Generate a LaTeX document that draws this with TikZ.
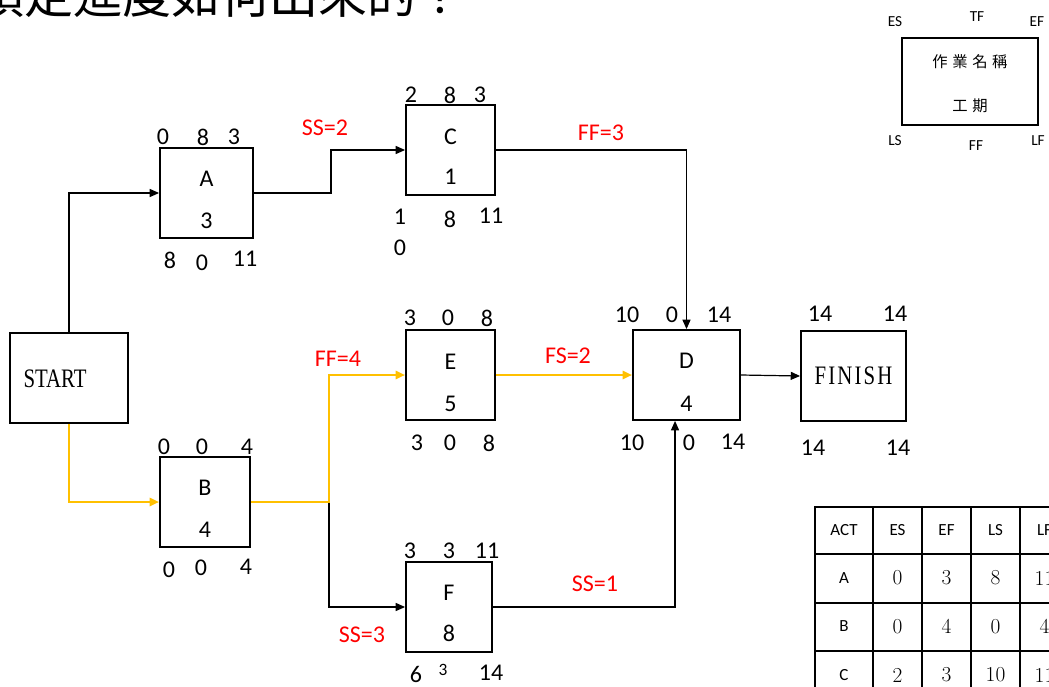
\documentclass[tikz,border=0pt]{standalone}
\usepackage{fontspec}
\setmainfont{Carlito}
\newfontfamily\cjk{Noto Sans CJK TC}
\newfontfamily\halfserif[FakeStretch=0.78]{Liberation Serif}
\newfontfamily\cmnum{Latin Modern Roman}
\usetikzlibrary{arrows.meta,positioning}
\definecolor{critpath}{HTML}{FFC000}

\begin{document}
\begin{tikzpicture}[x=0.75pt, y=-0.75pt,
                font=\fontsize{18}{20}\selectfont,
                box/.style={rectangle, draw=black, line width=1.4pt, minimum height=67.5pt, inner sep=0pt},
                txt/.style={inner sep=0pt},
                rel/.style={txt, text=red},
                key/.style={txt, font=\fontsize{11.5}{13}\selectfont},
                thead/.style={txt, font=\fontsize{12.75}{14}\selectfont},
                tnum/.style={txt, font=\cmnum\fontsize{16}{18}\selectfont},
                tbl/.style={line width=1.5pt},
                arr/.style={-{Triangle[length=7pt,width=6pt]}, line width=0.9pt},
                carr/.style={arr, draw=critpath, line width=1.8pt},
            ]
            \useasboundingbox (0,0) rectangle (1049,686);

            % title (cut by the page edge)
            \node[txt, anchor=base west, font={\cjk\fontsize{36.75}{40}\selectfont}] (title) at (-25,13) {預定進度如何出來的？};

            % activity boxes
            \node[box, minimum width=88.5pt] (start) at (69,378) {};
            \node[txt, font={\halfserif\fontsize{20}{22}\selectfont}] (start-txt) at (55,379) {START};
            \node[box, minimum width=69.75pt] (A) at (206.5,193) {};
            \node[box, minimum width=67.5pt] (B) at (205,502) {};
            \node[box, minimum width=66.75pt] (C) at (450.5,150) {};
            \node[box, minimum width=66.75pt] (E) at (450.5,375) {};
            \node[box, minimum width=64.5pt] (F) at (449,607) {};
            \node[box, minimum width=80.25pt] (D) at (686.5,375) {};
            \node[box, minimum width=78.75pt, font={\halfserif\addfontfeature{LetterSpace=8}\fontsize{20}{22}\selectfont}] (finish) at (853.5,376) {FINISH};

            % names and durations
            \node[txt, yshift=10.5pt] (A-name) at (A) {A};
            \node[txt, yshift=-21pt] (A-dur) at (A) {3};
            \node[txt, yshift=10.5pt] (B-name) at (B) {B};
            \node[txt, yshift=-21pt] (B-dur) at (B) {4};
            \node[txt, yshift=10pt] (C-name) at (C) {C};
            \node[txt, yshift=-20pt] (C-dur) at (C) {1};
            \node[txt, yshift=10pt] (E-name) at (E) {E};
            \node[txt, yshift=-21.5pt] (E-dur) at (E) {5};
            \node[txt, yshift=11pt] (F-name) at (F) {F};
            \node[txt, yshift=-20pt] (F-dur) at (F) {8};
            \node[txt, yshift=11pt] (D-name) at (D) {D};
            \node[txt, yshift=-21.5pt] (D-dur) at (D) {4};

            % time values round the boxes
            \node[txt] (A-es) at (163,137) {0};
            \node[txt] (A-tf) at (203,137) {8};
            \node[txt] (A-ef) at (234,137) {3};
            \node[txt] (A-ls) at (170,260) {8};
            \node[txt] (A-ff) at (202,263) {0};
            \node[txt] (A-lf) at (245,259) {11};
            \node[txt] (C-es) at (411,95) {2};
            \node[txt] (C-tf) at (450,95) {8};
            \node[txt] (C-ef) at (480,95) {3};
            \node[txt, align=center] (C-ls) at (400,232.5) {1\\[3.5pt]0};
            \node[txt] (C-ff) at (450,219) {8};
            \node[txt] (C-lf) at (491,216) {11};
            \node[txt] (E-es) at (410,318) {3};
            \node[txt] (E-tf) at (448,318) {0};
            \node[txt] (E-ef) at (487,318) {8};
            \node[txt] (E-ls) at (417,443) {3};
            \node[txt] (E-ff) at (450,443) {0};
            \node[txt] (E-lf) at (489,443) {8};
            \node[txt] (D-es) at (627,315) {10};
            \node[txt] (D-tf) at (672,315) {0};
            \node[txt] (D-ef) at (719,315) {14};
            \node[txt] (D-ls) at (632,443) {10};
            \node[txt] (D-ff) at (689,443) {0};
            \node[txt] (D-lf) at (733,442) {14};
            \node[txt] (B-es) at (164,447) {0};
            \node[txt] (B-tf) at (202,447) {0};
            \node[txt] (B-ef) at (247,447) {4};
            \node[txt] (B-ls) at (169,570) {0};
            \node[txt] (B-ff) at (201,568) {0};
            \node[txt] (B-lf) at (246,567) {4};
            \node[txt] (F-es) at (410,551) {3};
            \node[txt] (F-tf) at (449,551) {3};
            \node[txt] (F-ef) at (487,551) {11};
            \node[txt] (F-ls) at (416,674) {6};
            \node[txt, font=\fontsize{13}{15}\selectfont] (F-ff) at (443,670) {3};
            \node[txt] (F-lf) at (491,673) {14};
            \node[txt] (fin-es) at (820,314) {14};
            \node[txt] (fin-ef) at (895,314) {14};
            \node[txt] (fin-ls) at (813,448) {14};
            \node[txt] (fin-lf) at (898,448) {14};

            % relations
            \node[rel] (ss2) at (325,128) {SS=2};
            \node[rel] (ff3) at (601,133) {FF=3};
            \node[rel] (ff4) at (338,359) {FF=4};
            \node[rel] (fs2) at (568,356) {FS=2};
            \node[rel] (ss1) at (595,584) {SS=1};
            \node[rel] (ss3) at (362,635) {SS=3};

            \draw[arr] (start.north) |- (A.west);
            \draw[carr] (start.south) |- (B.west);
            \draw[arr] (A.east) -- ++(77,0) |- (C.west);
            \draw[arr] (C.east) -| (D.north);
            \draw[arr] (B.east) -- ++(78,0) |- (F.west);
            \draw[carr] (B.east) -- ++(78,0) |- (E.west);
            \draw[carr] (E.east) -- (D.west);
            \draw[arr] (F.east) -| ([xshift=-8.6pt]D.south);
            \draw[arr] (D.east) -- (finish.west);

            % legend
            \node[box, minimum width=102pt, minimum height=65.25pt] (legend) at (970,81.5) {};
            \node[txt, font={\cjk\addfontfeature{LetterSpace=30}\fontsize{11.5}{13}\selectfont}] (key-name) at (970,62) {作業名稱};
            \node[txt, font={\cjk\addfontfeature{LetterSpace=30}\fontsize{11.5}{13}\selectfont}] (key-dur) at (970,106) {工期};
            \node[key] (key-es) at (895,22) {ES};
            \node[key] (key-tf) at (977,17) {TF};
            \node[key] (key-ef) at (1037,22) {EF};
            \node[key] (key-ls) at (895,141) {LS};
            \node[key] (key-ff) at (976,146) {FF};
            \node[key] (key-lf) at (1038,141) {LF};

            % table
            \foreach \x in {815,873,922,971,1020,1069}
                \draw[tbl] (\x,507) -- (\x,700);
            \foreach \y in {507,554,602.5,651,699}
                \draw[tbl] (814.25,\y) -- (1069,\y);
            \foreach \t/\x [count=\i] in {ACT/844,ES/897.5,EF/946.5,LS/995.5,LF/1044.5}
                \node[thead] (h-\i) at (\x,530.5) {\t};
            \foreach \r/\y/\a/\b/\c/\d in {A/578/0/3/8/11, B/626.5/0/4/0/4, C/675/2/3/10/11}{
                \node[thead] (\r-act) at (844,\y) {\r};
                \node[tnum] (\r-1) at (897.5,\y) {\a};
                \node[tnum] (\r-2) at (946.5,\y) {\b};
                \node[tnum] (\r-3) at (995.5,\y) {\c};
                \node[tnum] (\r-4) at (1044.5,\y) {\d};
            }
        \end{tikzpicture}
\end{document}
